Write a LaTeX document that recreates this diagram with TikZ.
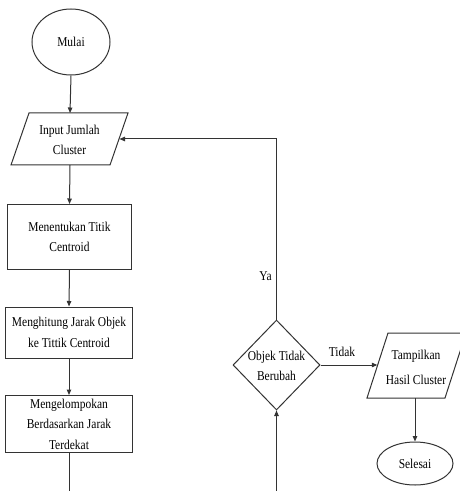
\documentclass[tikz,border=0pt]{standalone}
\usepackage{fontspec}
\setmainfont[FakeStretch=0.85]{Liberation Serif}
\usetikzlibrary{shapes.geometric,arrows.meta}
\begin{document}
\begin{tikzpicture}[x=1bp,y=-1bp,
  line/.style={draw=black!80, line width=1bp},
  arr/.style={line, -{Triangle[length=5.5bp,width=4.5bp]}},
  txt/.style={font=\fontsize{13.5bp}{20.5bp}\selectfont, align=center, inner sep=0pt},
  procbox/.style={line, rectangle, txt},
  term/.style={line, ellipse, txt}
]
\useasboundingbox (0,0) rectangle (460,491);

% start
\node[term, minimum width=78bp, minimum height=66bp] (mulai) at (71,42) {Mulai};

% input parallelogram
\draw[line] (29,113) -- (128,113) -- (110,165) -- (11,165) -- cycle;
\node[txt] (input) at (69.5,140) {Input Jumlah\\Cluster};
\coordinate (inT) at (70,113);
\coordinate (inB) at (70,165);
\coordinate (inR) at (119.5,139);

% process boxes
\node[procbox, minimum width=123bp, minimum height=65bp] (b1) at (69.5,237) {Menentukan Titik\\Centroid};
\node[procbox, minimum width=126bp, minimum height=51bp] (b2) at (69,332.5) {Menghitung Jarak Objek\\ke Tittik Centroid};
\node[procbox, minimum width=126bp, minimum height=57bp] (b3) at (69,424) {Mengelompokan\\Berdasarkan Jarak\\Terdekat};
\coordinate (endL) at (69,491);

% decision
\node[line, diamond, minimum width=87bp, minimum height=90bp, inner sep=0pt] (dec) at (276.5,365) {};
\node[txt] (dectxt) at (276.5,366) {Objek Tidak\\Berubah};
\coordinate (endR) at (276.5,491);
\coordinate (loop) at (276.5,139);

% output parallelogram
\draw[line] (388,333) -- (466,333) -- (445,398) -- (367,398) -- cycle;
\node[txt, font=\fontsize{13.5bp}{25.5bp}\selectfont] (output) at (416,367.5) {Tampilkan\\Hasil Cluster};
\coordinate (outL) at (377.3,365);
\coordinate (outB) at (415,398);

% end
\node[term, minimum width=76bp, minimum height=43bp] (selesai) at (415,463.5) {Selesai};

% connectors
\draw[arr] (mulai.south) -- (inT);
\draw[arr] (inB) -- (b1.north);
\draw[arr] (b1.south) -- (b2.north);
\draw[arr] (b2.south) -- (b3.north);
\draw[line] (b3.south) -- (endL);
\draw[arr] (endR) -- (dec.south);
\draw[arr] (dec.north) -- (loop) -- (inR);
\draw[arr] (dec.east) -- (outL);
\draw[arr] (outB) -- (selesai.north);

% labels
\node[txt] (ya) at (265.5,276) {Ya};
\node[txt] (tidak) at (342,352) {Tidak};
\end{tikzpicture}
\end{document}
